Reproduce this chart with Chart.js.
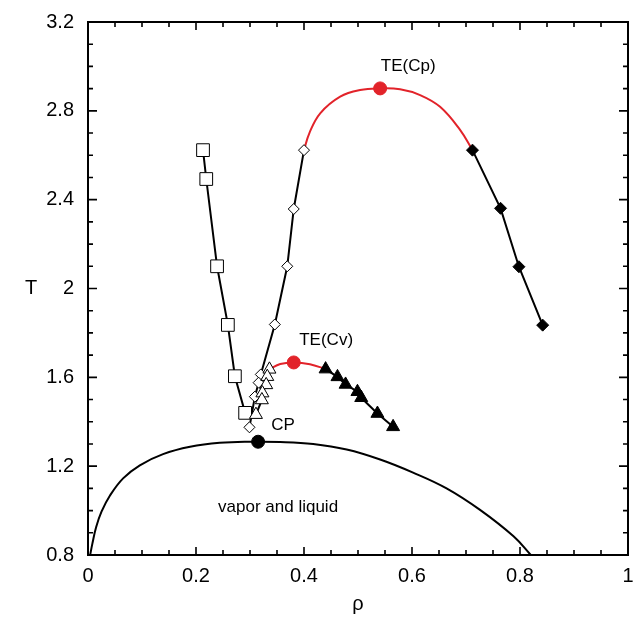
<!DOCTYPE html>
<html>
<head>
<meta charset="utf-8">
<title>T - rho phase diagram</title>
<script src="https://cdn.jsdelivr.net/npm/chart.js@4/dist/chart.umd.min.js"></script>
<style>
  html, body { margin: 0; padding: 0; background: #fff; }
  canvas { display: block; }
</style>
</head>
<body>
<canvas id="phaseChart" width="633" height="622"></canvas>
<script>
// axis ticks
const xTicks = [0, 0.2, 0.4, 0.6, 0.8, 1];
const yTicks = [0.8, 1.2, 1.6, 2, 2.4, 2.8, 3.2];

// open squares
const squareRho = [0.213, 0.219, 0.239, 0.259, 0.272, 0.291];
const squareT   = [2.623, 2.493, 2.100, 1.836, 1.605, 1.440];

// open diamonds
const openDiamondRho = [0.400, 0.381, 0.369, 0.346, 0.320, 0.316, 0.309, 0.299];
const openDiamondT   = [2.623, 2.358, 2.100, 1.838, 1.613, 1.576, 1.513, 1.375];

// open triangles
const openTriRho = [0.336, 0.332, 0.330, 0.323, 0.322, 0.311];
const openTriT   = [1.636, 1.603, 1.566, 1.529, 1.498, 1.432];

// filled triangles
const fillTriRho = [0.440, 0.462, 0.477, 0.499, 0.506, 0.536, 0.565];
const fillTriT   = [1.637, 1.602, 1.568, 1.535, 1.508, 1.437, 1.377];

// filled diamonds
const fillDiamondRho = [0.712, 0.764, 0.798, 0.842];
const fillDiamondT   = [2.623, 2.361, 2.098, 1.835];

// TE(Cp) branch (red)
const cpCurveRho = [0.400, 0.410, 0.430, 0.467, 0.504, 0.541, 0.578, 0.615, 0.652, 0.689, 0.712];
const cpCurveT   = [2.623, 2.700, 2.789, 2.864, 2.894, 2.901, 2.897, 2.871, 2.818, 2.714, 2.623];
const cpPointRho = [0.541];
const cpPointT   = [2.901];

// TE(Cv) branch (red)
const cvCurveRho = [0.336, 0.356, 0.381, 0.411, 0.440];
const cvCurveT   = [1.636, 1.660, 1.667, 1.659, 1.637];
const cvPointRho = [0.381];
const cvPointT   = [1.667];

// vapor-liquid coexistence curve
const coexRho = [0.004, 0.008, 0.015, 0.025, 0.041, 0.065, 0.096, 0.139, 0.189, 0.244, 0.300,
                 0.356, 0.417, 0.479, 0.541, 0.602, 0.664, 0.726, 0.788, 0.820];
const coexT   = [0.800, 0.850, 0.925, 0.995, 1.069, 1.145, 1.204, 1.254, 1.287, 1.305, 1.310,
                 1.309, 1.300, 1.275, 1.230, 1.171, 1.100, 1.003, 0.884, 0.800];
const critRho = [0.315];
const critT   = [1.310];

// text placed in data coordinates
const notes = [
    { text: 'TE(Cp)', rho: 0.593, t: 3.002 },
    { text: 'TE(Cv)', rho: 0.441, t: 1.768 },
    { text: 'CP', rho: 0.361, t: 1.385 },
    { text: 'vapor and liquid', rho: 0.352, t: 1.015 }
];

const FONT = '"Liberation Sans", Arial, Helvetica, sans-serif';
const RED = '#e2232a';
const PLOT_RIGHT = 628;

function pts(xs, ys) {
    return xs.map((x, i) => ({ x: x, y: ys[i] }));
}

function fmt(v) {
    return String(Number(v.toFixed(2)));
}

// stretch the x scale so the plot frame ends at PLOT_RIGHT
const rightEdgePlugin = {
    id: 'rightEdge',
    afterLayout(chart) {
        const x = chart.scales.x;
        const a = chart.chartArea;
        x.right = PLOT_RIGHT;
        x.width = PLOT_RIGHT - x.left;
        x.configure();
        a.right = PLOT_RIGHT;
        a.width = PLOT_RIGHT - a.left;
    }
};

// frame, inward ticks, x tick labels, axis titles and notes
const framePlugin = {
    id: 'frame',
    afterDatasetsDraw(chart) {
        const { ctx, chartArea: a, scales: { x, y } } = chart;
        ctx.save();
        ctx.strokeStyle = '#000';
        ctx.lineWidth = 2;
        ctx.strokeRect(a.left, a.top, a.right - a.left, a.bottom - a.top);

        ctx.lineWidth = 1.6;
        ctx.beginPath();
        for (let i = 0; i <= 20; i++) {
            const v = i * 0.05;
            const px = x.getPixelForValue(v);
            const len = i % 4 === 0 ? 8 : 5;
            ctx.moveTo(px, a.bottom); ctx.lineTo(px, a.bottom - len);
            ctx.moveTo(px, a.top); ctx.lineTo(px, a.top + len);
        }
        for (let i = 0; i <= 24; i++) {
            const v = 0.8 + i * 0.1;
            const py = y.getPixelForValue(v);
            const len = i % 4 === 0 ? 9 : 5;
            ctx.moveTo(a.left, py); ctx.lineTo(a.left + len, py);
            ctx.moveTo(a.right, py); ctx.lineTo(a.right - len, py);
        }
        ctx.stroke();

        ctx.fillStyle = '#000';
        ctx.textAlign = 'center';
        ctx.textBaseline = 'middle';
        ctx.font = '20px ' + FONT;
        xTicks.forEach(v => {
            ctx.fillText(fmt(v), x.getPixelForValue(v), a.bottom + 21);
        });
        ctx.fillText('T', 31, (a.top + a.bottom) / 2);
        ctx.fillText('\u03c1', (a.left + a.right) / 2, 604);

        ctx.font = '17px ' + FONT;
        notes.forEach(n => {
            ctx.fillText(n.text, x.getPixelForValue(n.rho), y.getPixelForValue(n.t));
        });
        ctx.restore();
    }
};

function markers(data, style, radius, fill, edge) {
    return {
        data: data,
        showLine: false,
        pointStyle: style,
        pointRadius: radius,
        pointBackgroundColor: fill,
        pointBorderColor: edge || '#000',
        pointBorderWidth: 1
    };
}

function line(data, color, smooth) {
    return {
        data: data,
        showLine: true,
        borderColor: color,
        borderWidth: 2,
        pointRadius: 0,
        tension: smooth ? 0.4 : 0
    };
}

new Chart(document.getElementById('phaseChart'), {
    type: 'scatter',
    data: {
        datasets: [
            markers(pts(critRho, critT), 'circle', 6.5, '#000'),
            markers(pts(cpPointRho, cpPointT), 'circle', 6.5, RED, RED),
            markers(pts(cvPointRho, cvPointT), 'circle', 6.5, RED, RED),
            markers(pts(fillDiamondRho, fillDiamondT), 'rectRot', 6, '#000'),
            markers(pts(fillTriRho, fillTriT), 'triangle', 7.5, '#000'),
            markers(pts(openTriRho, openTriT), 'triangle', 7.5, '#fff'),
            markers(pts(openDiamondRho, openDiamondT), 'rectRot', 5.5, '#fff'),
            markers(pts(squareRho, squareT), 'rect', 9, '#fff'),
            line(pts(fillDiamondRho, fillDiamondT), '#000', false),
            line(pts(fillTriRho, fillTriT), '#000', false),
            line(pts(openTriRho, openTriT), '#000', false),
            line(pts(openDiamondRho, openDiamondT), '#000', false),
            line(pts(squareRho, squareT), '#000', false),
            line(pts(cpCurveRho, cpCurveT), RED, true),
            line(pts(cvCurveRho, cvCurveT), RED, true),
            line(pts(coexRho, coexT), '#000', true)
        ]
    },
    options: {
        responsive: false,
        animation: false,
        events: [],
        layout: { padding: { left: 0, right: 0, top: 22, bottom: 0 } },
        plugins: {
            legend: { display: false },
            tooltip: { enabled: false }
        },
        scales: {
            x: {
                type: 'linear',
                min: 0,
                max: 1,
                afterFit: s => { s.height = 67; },
                afterBuildTicks: s => { s.ticks = xTicks.map(v => ({ value: v })); },
                grid: { display: false },
                border: { display: false },
                ticks: { display: false }
            },
            y: {
                type: 'linear',
                min: 0.8,
                max: 3.2,
                afterFit: s => { s.width = 88; s.paddingTop = 0; s.paddingBottom = 0; },
                afterBuildTicks: s => { s.ticks = yTicks.map(v => ({ value: v })); },
                grid: { display: false },
                border: { display: false },
                ticks: {
                    padding: 6,
                    color: '#000',
                    font: { family: FONT, size: 20 },
                    callback: v => fmt(v)
                }
            }
        }
    },
    plugins: [rightEdgePlugin, framePlugin]
});
</script>
</body>
</html>
